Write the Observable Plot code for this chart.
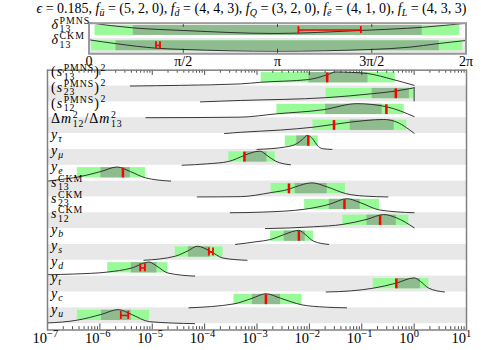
<!DOCTYPE html>
<html><head><meta charset="utf-8">
<script src="https://cdn.jsdelivr.net/npm/d3@7"></script>
<script src="https://cdn.jsdelivr.net/npm/@observablehq/plot@0.6"></script>
<style>
body{margin:0;background:#fff}
#wrap{position:relative;width:481px;height:350px;overflow:hidden;background:#fff}
#wrap svg{position:absolute;left:0;top:0}
#title{position:absolute;left:0;top:0px;width:503px;text-align:center;font:14px "Liberation Serif",serif;white-space:nowrap;line-height:18px}
#title sub{font-size:10px;vertical-align:-3px;line-height:0}
.lab{position:absolute;height:24px;line-height:24px;font:14px "Liberation Serif",serif;white-space:nowrap;color:#000;letter-spacing:1px}
.lab .it{font-style:italic}
.lab .ss{display:inline-block;vertical-align:-3.5px;font-size:9.8px;line-height:8.6px;margin-left:0.5px}
.lab .ss span{display:block}
.lab .up{font-size:9.8px;vertical-align:5.5px;line-height:0;margin-left:0.5px}
.lab .dn{font-size:9.8px;vertical-align:-3px;line-height:0}
</style></head><body>
<div id="wrap"></div>
<script>
// ---------- data: bottom panel (values are log10 of x) ----------
const rowLabels = [
  [{t:"("},{t:"s",it:1},{ss:["PMNS","13"]},{t:")"},{sup:"2"}],
  [{t:"("},{t:"s",it:1},{ss:["PMNS","23"]},{t:")"},{sup:"2"}],
  [{t:"("},{t:"s",it:1},{ss:["PMNS","12"]},{t:")"},{sup:"2"}],
  [{t:"Δ"},{t:"m",it:1},{ss:["2","12"]},{t:"/Δ"},{t:"m",it:1},{ss:["2","13"]}],
  [{t:"y",it:1},{sub:"τ",it:1}],
  [{t:"y",it:1},{sub:"μ",it:1}],
  [{t:"y",it:1},{sub:"e",it:1}],
  [{t:"s",it:1},{ss:["CKM","13"]}],
  [{t:"s",it:1},{ss:["CKM","23"]}],
  [{t:"s",it:1},{ss:["CKM","12"]}],
  [{t:"y",it:1},{sub:"b",it:1}],
  [{t:"y",it:1},{sub:"s",it:1}],
  [{t:"y",it:1},{sub:"d",it:1}],
  [{t:"y",it:1},{sub:"t",it:1}],
  [{t:"y",it:1},{sub:"c",it:1}],
  [{t:"y",it:1},{sub:"u",it:1}]
];
const outerLo = [-2.92,-1.68,-2.62,-1.93,-2.46,-3.54,-6.43,-2.73,-2.09,-1.36,-2.74,-4.56,-5.85,-0.78,-3.44,-6.43];
const outerHi = [-0.36, 0.00,-0.19,-0.14,-1.83,-2.65,-5.13,-1.31,-0.66,-0.10,-1.92,-3.65,-4.70, 0.28,-2.14,-5.05];
const innerLo = [-2.01,-0.80,-1.69,-1.22,-2.24,-3.25,-5.98,-2.27,-1.62,-0.90,-2.48,-4.31,-5.40,-0.33,-3.09,-5.97];
const innerHi = [-0.88,-0.09,-0.61,-0.38,-2.01,-2.81,-5.42,-1.66,-1.03,-0.34,-2.08,-3.89,-4.91, 0.12,-2.55,-5.40];
const redLo   = [-1.66,-0.35,-0.53,-1.53,-2.02,-3.24,-5.56,-2.39,-1.33,-0.65,-2.20,-3.92,-5.23,-0.34,-2.83,-5.60];
const redHi   = [-1.66,-0.35,-0.53,-1.53,-2.02,-3.24,-5.56,-2.39,-1.33,-0.65,-2.20,-3.84,-5.14,-0.34,-2.83,-5.46];
// distribution curves: [log10 x, relative height]
const curves = [
  [[-5.42,0],[-4.46,0.05],[-3.32,0.15],[-2.92,0.27],[-2.02,0.46],[-1.66,0.8],[-1.5,1],[-1.2,0.97],[-0.89,0.89],[-0.4,0.46],[0,0.05]],
  [[-4.08,0],[-3.32,0.1],[-1.68,0.3],[-0.8,0.58],[-0.35,0.77],[0,1]],
  [[-5.12,0],[-3.32,0.04],[-2.62,0.28],[-1.73,0.57],[-1.09,1],[-0.53,0.78],[0,0.08]],
  [[-3.62,0],[-3.32,0.09],[-2.55,0.25],[-1.93,0.45],[-1.22,0.81],[-0.58,1],[-0.38,0.88],[0,0.02]],
  [[-3.0,0],[-2.46,0.17],[-2.24,0.41],[-2.13,0.72],[-2.04,1],[-1.93,0.72],[-1.85,0.29],[-1.75,0.05],[-1.57,0]],
  [[-4.43,0],[-3.95,0.1],[-3.54,0.27],[-3.24,0.7],[-3.06,0.94],[-2.94,1],[-2.81,0.7],[-2.65,0.3],[-2.36,0.03]],
  [[-7.0,0],[-6.75,0.11],[-6.43,0.28],[-5.98,0.68],[-5.67,1],[-5.42,0.68],[-5.13,0.23],[-4.65,0]],
  [[-4.14,0],[-3.32,0.02],[-2.73,0.31],[-2.39,0.55],[-2.27,0.71],[-1.95,1],[-1.66,0.71],[-1.31,0.24],[-0.95,0.06],[-0.5,0]],
  [[-3.51,0],[-2.87,0.05],[-2.09,0.25],[-1.62,0.6],[-1.28,1],[-1.03,0.72],[-0.66,0.2],[0,0]],
  [[-2.84,0],[-1.92,0.13],[-1.36,0.3],[-0.9,0.66],[-0.58,1],[-0.34,0.77],[0,0.06]],
  [[-3.41,0],[-3.0,0.2],[-2.74,0.35],[-2.48,0.71],[-2.2,1],[-2.08,0.71],[-1.92,0.23],[-1.63,0]],
  [[-5.16,0],[-4.56,0.29],[-4.31,0.69],[-4.14,1],[-3.89,0.64],[-3.65,0.16],[-3.19,0]],
  [[-7.0,0.1],[-6.5,0.15],[-5.85,0.29],[-5.4,0.57],[-5.06,1],[-4.91,0.7],[-4.7,0.22],[-4.19,0]],
  [[-1.68,0],[-1.2,0.08],[-0.78,0.27],[-0.34,0.63],[0,1],[0.12,0.75],[0.28,0.27],[0.58,0]],
  [[-4.3,0],[-3.44,0.28],[-3.09,0.68],[-2.83,1],[-2.55,0.68],[-2.14,0.21],[-1.7,0.05],[-1.29,0]],
  [[-7.0,0.05],[-6.43,0.25],[-5.97,0.66],[-5.65,1],[-5.4,0.66],[-5.05,0.14],[-4.19,0]]
];
const drops = [{row:1, at:0, h:1}];
const decades = [-7,-6,-5,-4,-3,-2,-1,0,1];
const minorSteps = [2,3,4,5,6,7,8,9];

// ---------- data: top panel (radians) ----------
const deltaLabels = [
  [{t:"δ",it:1},{ss:["PMNS","13"]}],
  [{t:"δ",it:1},{ss:["CKM","13"]}]
];
const deltaOuterLo = [0.10, 0.045];
const deltaOuterHi = [6.18, 6.228];
const deltaInnerLo = [0.738, 0.45];
const deltaInnerHi = [5.553, 5.838];
const deltaRedLo = [3.49, 1.117];
const deltaRedHi = [4.53, 1.183];
const deltaCurves = [
  [[0,1.15],[0.74,0.78],[1.57,0.59],[3.1,0.37],[4.52,0.59],[5.57,0.83],[6.283,1.12]],
  [[0,1.03],[0.46,0.74],[1.13,0.41],[1.57,0.32],[3.13,0.19],[4.71,0.32],[5.35,0.49],[5.8,0.74],[6.283,0.98]]
];
const piTickValues = [0, Math.PI/2, Math.PI, 3*Math.PI/2, 2*Math.PI];
const piTickLabels = ["0","π/2","π","3π/2","2π"];

// ---------- styling constants ----------
const LIGHT = "#98fb98", DARK = "#8fbc8f", BAND = "#e8e8e8", RED = "#ff0000", CURVE = "#222";
const K = 0.889, BOX1 = 0.15, BOX2 = 0.8;
const FONT = "'Liberation Serif', serif";

// ---------- bottom panel ----------
const rows = d3.range(16).map(i => ({
  i, oLo: 10**outerLo[i], oHi: 10**outerHi[i], iLo: 10**innerLo[i], iHi: 10**innerHi[i],
  rLo: 10**redLo[i], rHi: 10**redHi[i]
}));
const curvePts = curves.flatMap((c, i) => c.map(([l, h]) => ({i, x: 10**l, y: i + 1 - K*h})));
const singles = rows.filter(r => r.rLo === r.rHi);
const hbars = rows.filter(r => r.rLo < r.rHi);
const majorTicks = decades.map(k => 10**k);
const minorTicks = decades.slice(0, -1).flatMap(k => minorSteps.map(m => m * 10**k));
const YMAX = 16.4;

const bottomPlot = Plot.plot({
  width: 481, height: 350,
  marginLeft: 47, marginRight: 15, marginTop: 69.7, marginBottom: 20.5,
  x: {type: "log", domain: [1e-7, 10], axis: null},
  y: {domain: [0, YMAX], reverse: true, axis: null},
  style: {background: "transparent", fontFamily: FONT, color: "#000"},
  marks: [
    Plot.rect(rows.filter(r => r.i % 2 === 1), {x1: () => 1e-7, x2: () => 10, y1: r => r.i, y2: r => r.i + 1, fill: BAND}),
    Plot.rect(rows, {x1: "oLo", x2: "oHi", y1: r => r.i + BOX1, y2: r => r.i + BOX2, fill: LIGHT}),
    Plot.rect(rows, {x1: "iLo", x2: "iHi", y1: r => r.i + BOX1, y2: r => r.i + BOX2, fill: DARK}),
    Plot.line(curvePts, {x: "x", y: "y", z: "i", curve: "monotone-x", stroke: CURVE, strokeWidth: 0.9}),
    Plot.ruleX(drops, {x: d => 10**d.at, y1: d => d.row + 1, y2: d => d.row + 1 - K*d.h, stroke: CURVE, strokeWidth: 0.9}),
    Plot.ruleX(singles, {x: "rLo", y1: r => r.i + 0.18, y2: r => r.i + 0.8, stroke: RED, strokeWidth: 2.5}),
    Plot.ruleX(hbars, {x: "rLo", y1: r => r.i + 0.22, y2: r => r.i + 0.73, stroke: RED, strokeWidth: 1.8}),
    Plot.ruleX(hbars, {x: "rHi", y1: r => r.i + 0.22, y2: r => r.i + 0.73, stroke: RED, strokeWidth: 1.8}),
    Plot.ruleY(hbars, {y: r => r.i + 0.48, x1: "rLo", x2: "rHi", stroke: RED, strokeWidth: 1.5}),
    Plot.ruleX(majorTicks, {x: d => d, y1: () => 0, y2: () => 0.33, stroke: "#222", strokeWidth: 0.8}),
    Plot.ruleX(minorTicks, {x: d => d, y1: () => 0, y2: () => 0.19, stroke: "#222", strokeWidth: 0.8}),
    Plot.ruleX(majorTicks, {x: d => d, y1: () => YMAX, y2: () => YMAX - 0.38, stroke: "#222", strokeWidth: 0.8}),
    Plot.ruleX(minorTicks, {x: d => d, y1: () => YMAX, y2: () => YMAX - 0.21, stroke: "#222", strokeWidth: 0.8}),
    Plot.frame({stroke: "#808080", strokeWidth: 1.5}),
    Plot.text(decades, {x: k => 10**k, text: () => "10", frameAnchor: "bottom", textAnchor: "end", dx: -0.5, dy: 13, fontSize: 14.5, fill: "#000"}),
    Plot.text(decades, {x: k => 10**k, text: k => String(k).replace("-", "−"), frameAnchor: "bottom", textAnchor: "start", dx: -0.5, dy: 7, fontSize: 10.5, fill: "#000"})
  ]
});

// ---------- top panel ----------
const drows = [0, 1].map(i => ({i, oLo: deltaOuterLo[i], oHi: deltaOuterHi[i], iLo: deltaInnerLo[i], iHi: deltaInnerHi[i], rLo: deltaRedLo[i], rHi: deltaRedHi[i]}));
const dcurvePts = deltaCurves.flatMap((c, i) => c.map(([v, h]) => ({i, x: v, y: i + 1 - K*h})));
const piTicks = piTickValues.map((v, j) => ({v, label: piTickLabels[j]}));
const innerPi = piTicks.slice(1, -1);

const topPlot = Plot.plot({
  width: 481, height: 68,
  marginLeft: 88.5, marginRight: 15.5, marginTop: 22.7, marginBottom: 14.7,
  x: {domain: [0, 2*Math.PI], axis: null},
  y: {domain: [0, 2], reverse: true, axis: null},
  style: {background: "transparent", fontFamily: FONT, color: "#000"},
  marks: [
    Plot.rect([1], {x1: () => 0, x2: () => 2*Math.PI, y1: i => i, y2: i => i + 1, fill: BAND}),
    Plot.rect(drows, {x1: "oLo", x2: "oHi", y1: r => r.i + BOX1, y2: r => r.i + BOX2, fill: LIGHT}),
    Plot.rect(drows, {x1: "iLo", x2: "iHi", y1: r => r.i + BOX1, y2: r => r.i + BOX2, fill: DARK}),
    Plot.line(dcurvePts, {x: "x", y: "y", z: "i", curve: "monotone-x", stroke: CURVE, strokeWidth: 0.9}),
    Plot.ruleX(drows, {x: "rLo", y1: r => r.i + 0.22, y2: r => r.i + 0.68, stroke: RED, strokeWidth: 1.8}),
    Plot.ruleX(drows, {x: "rHi", y1: r => r.i + 0.22, y2: r => r.i + 0.68, stroke: RED, strokeWidth: 1.8}),
    Plot.ruleY(drows, {y: r => r.i + 0.45, x1: "rLo", x2: "rHi", stroke: RED, strokeWidth: 1.5}),
    Plot.ruleX(innerPi, {x: "v", y1: () => 0, y2: () => 0.28, stroke: "#222", strokeWidth: 0.8}),
    Plot.ruleX(innerPi, {x: "v", y1: () => 2, y2: () => 1.7, stroke: "#222", strokeWidth: 0.8}),
    Plot.frame({stroke: "#9a9a9a", strokeWidth: 2}),
    Plot.text(piTicks, {x: "v", text: "label", frameAnchor: "bottom", dy: 7.5, lineAnchor: "middle", fontSize: 14, fill: "#000"})
  ]
});

const wrap = document.getElementById("wrap");
wrap.appendChild(bottomPlot);
wrap.appendChild(topPlot);
const title = document.createElement("div");
title.id = "title";
title.innerHTML = '<i>ϵ</i> = 0.185, <i>f</i><sub><i>ū</i></sub> = (5, 2, 0), <i>f</i><sub><i>d̄</i></sub> = (4, 4, 3), <i>f</i><sub><i>Q</i></sub> = (3, 2, 0), <i>f</i><sub><i>ē</i></sub> = (4, 1, 0), <i>f</i><sub><i>L</i></sub> = (4, 3, 3)';
wrap.appendChild(title);

// ---------- math-like labels (HTML text placed with the plots' y scales) ----------
function tokensToHTML(tokens) {
  return tokens.map(tk => {
    if (tk.ss) return `<span class="ss"><span>${tk.ss[0]}</span><span>${tk.ss[1]}</span></span>`;
    if (tk.sup) return `<span class="up">${tk.sup}</span>`;
    if (tk.sub) return `<span class="dn${tk.it ? " it" : ""}">${tk.sub}</span>`;
    return `<span${tk.it ? ' class="it"' : ""}>${tk.t}</span>`;
  }).join("");
}
const BASE_OFFSET = 16.7; // baseline position inside a 24px line box (14px Liberation Serif)
function addLabel(tokens, x, baseline) {
  const d = document.createElement("div");
  d.className = "lab";
  d.style.left = x + "px";
  d.style.top = (baseline - BASE_OFFSET) + "px";
  d.innerHTML = tokensToHTML(tokens);
  wrap.appendChild(d);
}
const ysB = bottomPlot.scale("y");
rowLabels.forEach((tokens, i) => addLabel(tokens, 51, ysB.apply(i + 0.5) + 3));
const ysT = topPlot.scale("y");
deltaLabels.forEach((tokens, i) => addLabel(tokens, 51.5, ysT.apply(i + 0.5) + 3));
</script>
</body></html>
